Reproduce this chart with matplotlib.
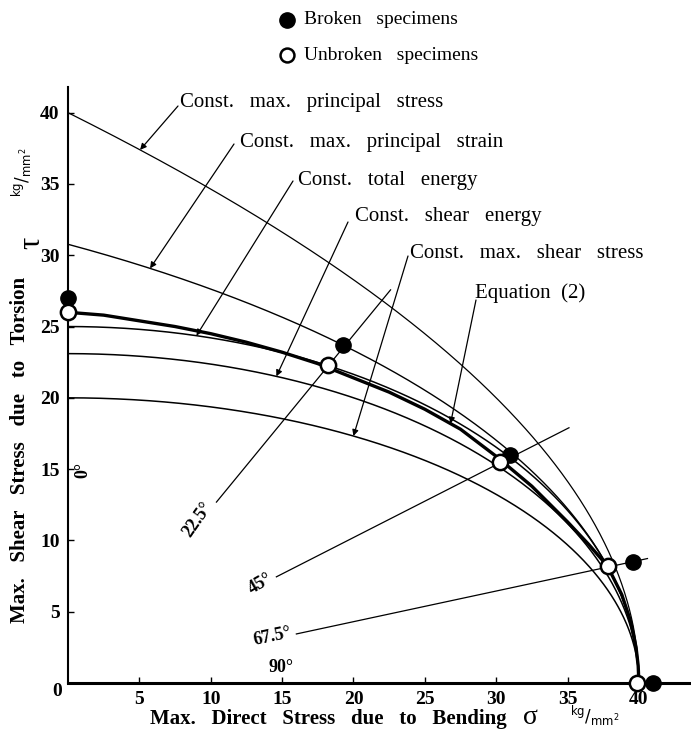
import numpy as np
import matplotlib
matplotlib.use("Agg")
import matplotlib.pyplot as plt

# uniaxial strength and torsion intercepts (kg/mm^2)
S = 40.0
nu = 0.3
tau0_total_energy = 25.0
tau0_shear_energy = 23.1
tau0_max_shear = 20.0

# Equation (2) curve
eq2_sigma = [0, 2.5, 5, 7.5, 10, 12.5, 15, 17.5, 20, 22.5, 25, 27.5, 30, 32.5, 35,
             36.5, 37.8, 38.8, 39.4, 39.8, 39.95, 40.0]
eq2_tau = [26.0, 25.8, 25.4, 25.0, 24.5, 23.9, 23.2, 22.4, 21.4, 20.4, 19.2, 17.8, 15.9,
           13.8, 11.3, 9.7, 8.2, 6.2, 4.4, 2.5, 1.2, 0.0]

# specimens
broken_sigma = [0.0, 19.3, 31.0, 39.6, 41.0]
broken_tau = [27.0, 23.7, 16.0, 8.5, 0.0]
unbroken_sigma = [0.0, 18.2, 30.3, 37.8, 39.9]
unbroken_tau = [26.0, 22.3, 15.5, 8.2, 0.0]

# loading-angle rays: label, tau/sigma ratio, sigma range drawn
ray_labels = ["22.5°", "45°", "67.5°"]
ray_ratio = [1.22, 0.51, 0.215]
ray_start = [10.4, 14.6, 16.0]
ray_end = [22.6, 35.1, 40.6]

W, H = 691, 742
SERIF = ["Liberation Serif", "DejaVu Serif"]


def fxy(px, py):
    return px / W, 1 - py / H


sig = np.linspace(0, S, 600)
tau_p_stress = np.sqrt(np.clip(S * S - S * sig, 0, None))
root = (S - (1 - nu) * sig / 2) / (1 + nu)
tau_p_strain = np.sqrt(np.clip(root ** 2 - sig ** 2 / 4, 0, None))
ell = np.sqrt(np.clip(1 - (sig / S) ** 2, 0, None))
tau_total = tau0_total_energy * ell
tau_shear_e = tau0_shear_energy * ell
tau_tresca = tau0_max_shear * ell

fig = plt.figure(figsize=(W / 100, H / 100), dpi=100)
ax = fig.add_axes([68 / W, 59 / H, 623 / W, 596 / H])
ax.set_xlim(0, 43.65)
ax.set_ylim(0, 41.8)

for t, lw in [(tau_p_stress, 0.9), (tau_p_strain, 1.0), (tau_total, 1.1),
              (tau_shear_e, 1.1), (tau_tresca, 1.1)]:
    ax.plot(sig, t, color="black", lw=lw, zorder=2)
ax.plot(eq2_sigma, eq2_tau, color="black", lw=2.4, zorder=3,
        solid_capstyle="round", solid_joinstyle="round")

for r, s0, s1 in zip(ray_ratio, ray_start, ray_end):
    ax.plot([s0, s1], [r * s0, r * s1], color="black", lw=0.9, zorder=2)

ax.plot(broken_sigma, broken_tau, "o", ms=11, color="black", zorder=5, clip_on=False)
ax.plot(unbroken_sigma, unbroken_tau, "o", ms=11, mfc="white", mec="black", mew=1.8,
        zorder=6, clip_on=False)

for side in ["top", "right"]:
    ax.spines[side].set_visible(False)
ax.spines["left"].set_linewidth(1.5)
ax.spines["bottom"].set_linewidth(2.2)
ax.set_xticks([5, 10, 15, 20, 25, 30, 35, 40])
ax.set_yticks([5, 10, 15, 20, 25, 30, 35, 40])
ax.tick_params(direction="in", length=4, width=1, pad=6)
for lab in ax.get_xticklabels() + ax.get_yticklabels():
    lab.set_family(SERIF)
    lab.set_fontweight("bold")
    lab.set_fontsize(14)
fig.text(*fxy(57, 692), "0", family=SERIF, fontweight="bold", fontsize=14,
         ha="center", va="center")

# curve labels with arrows
labels = [
    ("Const.   max.   principal   stress", (180, 103), (178, 106), tau_p_stress, 5.05),
    ("Const.   max.   principal   strain", (240, 143), (234, 144), tau_p_strain, 5.75),
    ("Const.   total   energy", (298, 180), (293, 181), tau_total, 9.0),
    ("Const.   shear   energy", (355, 216), (348, 222), tau_shear_e, 14.6),
    ("Const.   max.   shear   stress", (410, 253), (408, 256), tau_tresca, 20.0),
]
for text, tpos, tail, curve, s in labels:
    fig.text(*fxy(*tpos), text, family=SERIF, fontsize=15, ha="left", va="center")
    ax.annotate("", xy=(s, np.interp(s, sig, curve)), xytext=fxy(*tail),
                textcoords="figure fraction",
                arrowprops=dict(arrowstyle="-|>", mutation_scale=9, lw=0.9,
                                color="black", shrinkA=0, shrinkB=0))
fig.text(*fxy(475, 293), "Equation  (2)", family=SERIF, fontsize=15, ha="left", va="center")
ax.annotate("", xy=(26.8, np.interp(26.8, eq2_sigma, eq2_tau)), xytext=fxy(476, 300),
            textcoords="figure fraction",
            arrowprops=dict(arrowstyle="-|>", mutation_scale=9, lw=0.9,
                            color="black", shrinkA=0, shrinkB=0))

# angle labels
fig.text(*fxy(83, 470), "0°", family=SERIF, fontweight="bold", fontsize=13,
         rotation=90, ha="center", va="center")
for lab, pos, rot in zip(ray_labels, [(198, 520), (260, 584), (272, 637)], [55, 30, 12]):
    fig.text(*fxy(*pos), lab, family=SERIF, fontweight="bold", fontsize=13,
             rotation=rot, ha="center", va="center")
fig.text(*fxy(281, 668), "90°", family=SERIF, fontweight="bold", fontsize=13,
         ha="center", va="center")

# legend
fig.lines.append(plt.Line2D(*zip(fxy(287, 20)), marker="o", ms=11, color="black",
                            transform=fig.transFigure))
fig.lines.append(plt.Line2D(*zip(fxy(287, 55)), marker="o", ms=10, mfc="white",
                            mec="black", mew=1.8, transform=fig.transFigure))
fig.text(*fxy(304, 20), "Broken   specimens", family=SERIF, fontsize=14, va="center")
fig.text(*fxy(304, 55), "Unbroken   specimens", family=SERIF, fontsize=14, va="center")

# axis titles
fig.text(*fxy(150, 719), "Max.   Direct   Stress   due   to   Bending", family=SERIF,
         fontweight="bold", fontsize=15, ha="left", va="center")
fig.text(*fxy(530, 717), "σ", family=SERIF, fontsize=20, ha="center", va="center")
fig.text(*fxy(570, 716), r"$^{\mathrm{kg}}/_{\mathrm{mm^2}}$", fontsize=12,
         ha="left", va="center")
fig.text(*fxy(20, 450), "Max.   Shear   Stress   due   to   Torsion", family=SERIF,
         fontweight="bold", fontsize=15, rotation=90, ha="center", va="center")
fig.text(*fxy(32, 243), "τ", family=SERIF, fontsize=22, rotation=90, ha="center", va="center")
fig.text(*fxy(22, 172), r"$^{\mathrm{kg}}/_{\mathrm{mm^2}}$", fontsize=12, rotation=90,
         ha="center", va="center")

fig.savefig("out.png", dpi=100)
